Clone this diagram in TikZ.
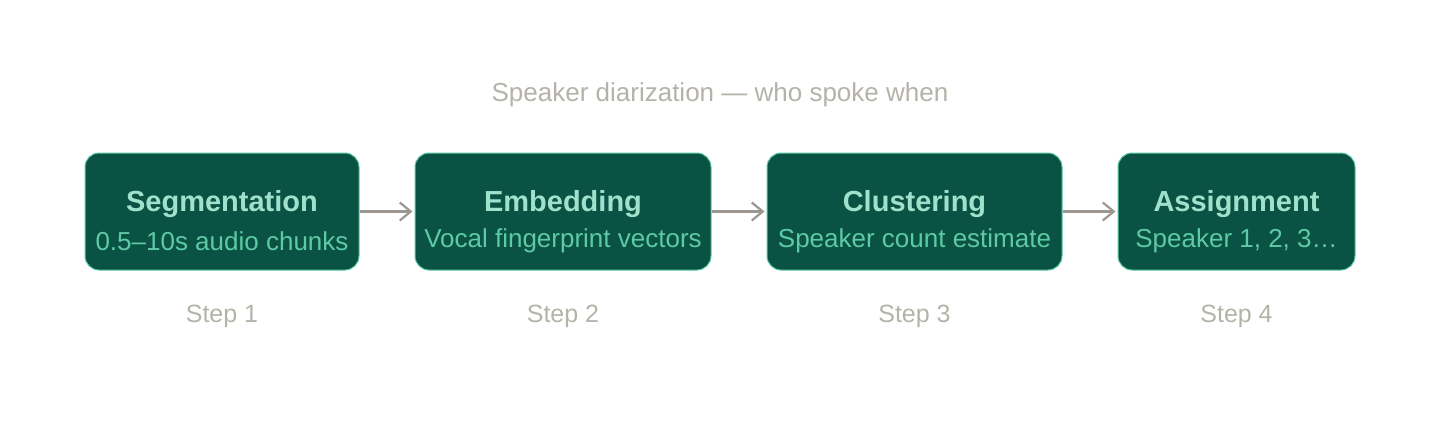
\documentclass[tikz,border=0pt]{standalone}
\usepackage{fontspec}
\setmainfont{Liberation Sans}
\usetikzlibrary{arrows.meta}
\definecolor{boxfill}{HTML}{0A5244}
\definecolor{boxline}{HTML}{5DCAA5}
\definecolor{headtxt}{HTML}{9FE1CB}
\definecolor{subtxt}{HTML}{5DCAA5}
\definecolor{greytxt}{HTML}{B4B2A9}
\definecolor{arrowc}{HTML}{9C9890}
\tikzset{
  stepbox/.style={draw=boxline, line width=1pt, fill=boxfill, rounded corners=14pt, minimum height=117pt, inner sep=0pt},
  headlbl/.style={text=headtxt, font=\fontsize{29}{33}\selectfont\bfseries, inner sep=0pt},
  sublbl/.style={text=subtxt, font=\fontsize{26}{30}\selectfont, inner sep=0pt},
  steplbl/.style={text=greytxt, font=\fontsize{25}{29}\selectfont, inner sep=0pt},
  flow/.style={draw=arrowc, line width=2.2pt, -{Straight Barb[length=11pt,width=18pt,line width=2.2pt]}},
}
\begin{document}
\begin{tikzpicture}[x=1pt,y=-1pt]
\useasboundingbox (0,0) rectangle (1440,424);
\node[text=greytxt, font=\fontsize{26}{30}\selectfont, inner sep=0pt] (title) at (720,95) {Speaker diarization — who spoke when};

\node[stepbox, minimum width=274pt] (b1) at (222,211.5) {};
\node[stepbox, minimum width=296pt] (b2) at (563,211.5) {};
\node[stepbox, minimum width=295pt] (b3) at (914.5,211.5) {};
\node[stepbox, minimum width=237pt] (b4) at (1236.5,211.5) {};

\node[headlbl] (h1) at (222,204) {Segmentation};
\node[sublbl] (s1) at (222,241) {0.5–10s audio chunks};
\node[headlbl] (h2) at (563,204) {Embedding};
\node[sublbl] (s2) at (563,241) {Vocal fingerprint vectors};
\node[headlbl] (h3) at (914.5,204) {Clustering};
\node[sublbl] (s3) at (914.5,241) {Speaker count estimate};
\node[headlbl] (h4) at (1236.5,204) {Assignment};
\node[sublbl] (s4) at (1236.5,241) {Speaker 1, 2, 3…};

\node[steplbl] (p1) at (222,316) {Step 1};
\node[steplbl] (p2) at (563,316) {Step 2};
\node[steplbl] (p3) at (914.5,316) {Step 3};
\node[steplbl] (p4) at (1236.5,316) {Step 4};

\draw[flow] (b1.east) -- ([xshift=-2pt]b2.west);
\draw[flow] (b2.east) -- ([xshift=-2pt]b3.west);
\draw[flow] (b3.east) -- ([xshift=-2pt]b4.west);
\end{tikzpicture}
\end{document}
